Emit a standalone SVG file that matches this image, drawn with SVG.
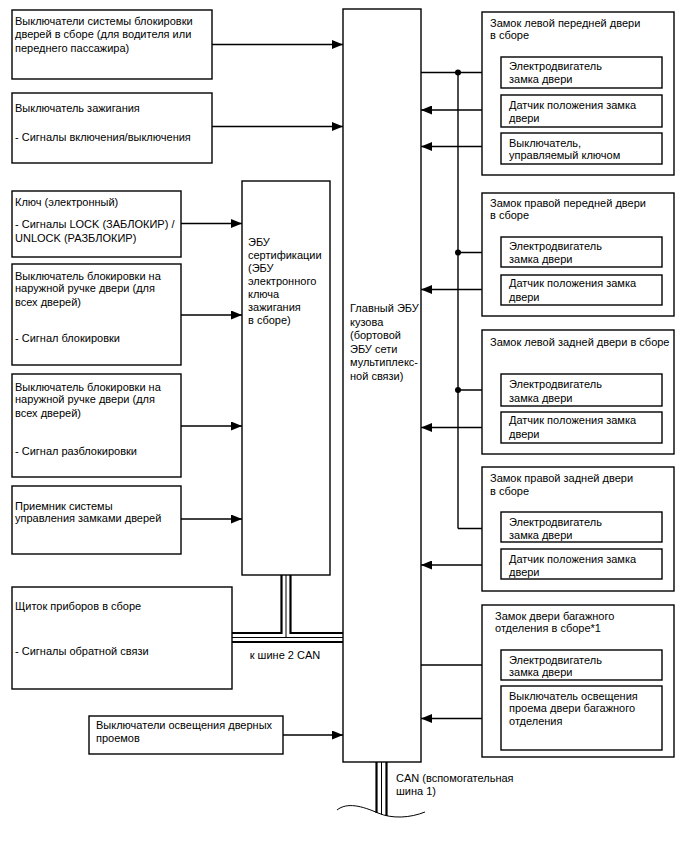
<svg xmlns="http://www.w3.org/2000/svg" width="688" height="852" viewBox="0 0 688 852">
<style>
  .bx{fill:#fff;stroke:#000;stroke-width:1.4}
  .t{font-family:"Liberation Sans",Arial,sans-serif;font-size:11px;fill:#000}
  .ln{fill:none;stroke:#000;stroke-width:1.4}
  .ar{fill:none;stroke:#000;stroke-width:1.4;marker-end:url(#ah)}
  .thick{fill:none;stroke:#000;stroke-width:2.2}
  .thin{fill:none;stroke:#000;stroke-width:1}
</style>
<defs>
  <marker id="ah" markerUnits="userSpaceOnUse" markerWidth="11" markerHeight="9" refX="11" refY="4.5" orient="auto">
    <path d="M0,0 L11,4.5 L0,9 z" fill="#000"/>
  </marker>
</defs>
<rect width="688" height="852" fill="#fff"/>

<g id="connectors">
  <line class="ar" x1="212" y1="44.5" x2="343" y2="44.5"/>
  <line class="ar" x1="212" y1="126.5" x2="343" y2="126.5"/>
  <line class="ar" x1="181" y1="223.5" x2="242" y2="223.5"/>
  <line class="ar" x1="181" y1="315" x2="242" y2="315"/>
  <line class="ar" x1="181" y1="426" x2="242" y2="426"/>
  <line class="ar" x1="181" y1="519" x2="242" y2="519"/>
  <line class="ar" x1="283" y1="735" x2="343" y2="735"/>
  <line class="ar" x1="421" y1="72.5" x2="501" y2="72.5"/>
  <line class="ar" x1="501" y1="110" x2="421" y2="110"/>
  <line class="ar" x1="501" y1="146.5" x2="421" y2="146.5"/>
  <path class="ln" d="M458,72.5 V528.5"/>
  <path class="ar" d="M458,528.5 H501"/>
  <line class="ar" x1="458" y1="252.5" x2="501" y2="252.5"/>
  <line class="ar" x1="501" y1="289.5" x2="421" y2="289.5"/>
  <line class="ar" x1="458" y1="390" x2="501" y2="390"/>
  <line class="ar" x1="501" y1="427.5" x2="421" y2="427.5"/>
  <line class="ar" x1="501" y1="565" x2="421" y2="565"/>
  <line class="ar" x1="421" y1="665" x2="501" y2="665"/>
  <line class="ar" x1="501" y1="718.5" x2="421" y2="718.5"/>
  <circle cx="458" cy="72.5" r="3" fill="#000"/>
  <circle cx="458" cy="252.5" r="3" fill="#000"/>
  <circle cx="458" cy="390" r="3" fill="#000"/>
  <!-- CAN bus 2 -->
  <path class="thick" d="M281.5,575 V633 H232"/>
  <path class="thick" d="M290.5,575 V633 H343"/>
  <path class="thin" d="M286,575 V637.5 M232,637.5 H343"/>
  <path class="thick" d="M232,642 H343"/>
  <!-- CAN sub bus 1 -->
  <path class="thick" d="M376.5,762 V813"/>
  <path class="thin" d="M381.5,762 V814.5"/>
  <path class="thick" d="M386.5,762 V816"/>
  <path class="thin" d="M337,810 C347,802 362,806 378,813 C392,819 410,818 425,812"/>
</g>

<g id="n-door-lock-switches">
  <rect class="bx" x="12" y="10" width="200" height="69"/>
  <text class="t" x="15" y="25">Выключатели системы блокировки</text>
  <text class="t" x="15" y="38.3">дверей в сборе (для водителя или</text>
  <text class="t" x="15" y="51.7">переднего пассажира)</text>
</g>
<g id="n-ignition">
  <rect class="bx" x="12" y="93" width="200" height="70"/>
  <text class="t" x="15" y="111.7">Выключатель зажигания</text>
  <text class="t" x="15" y="140.7">- Сигналы включения/выключения</text>
</g>
<g id="n-key">
  <rect class="bx" x="12" y="191" width="169" height="66"/>
  <text class="t" x="15" y="205.7">Ключ (электронный)</text>
  <text class="t" x="15" y="228.3">- Сигналы LOCK (ЗАБЛОКИР) /</text>
  <text class="t" x="15" y="242.3">UNLOCK (РАЗБЛОКИР)</text>
</g>
<g id="n-handle-lock">
  <rect class="bx" x="12" y="264" width="169" height="101"/>
  <text class="t" x="15" y="280">Выключатель блокировки на</text>
  <text class="t" x="15" y="292.3">наружной ручке двери (для</text>
  <text class="t" x="15" y="305.7">всех дверей)</text>
  <text class="t" x="15" y="342.3">- Сигнал блокировки</text>
</g>
<g id="n-handle-unlock">
  <rect class="bx" x="12" y="374" width="169" height="103"/>
  <text class="t" x="15" y="390.7">Выключатель блокировки на</text>
  <text class="t" x="15" y="403.3">наружной ручке двери (для</text>
  <text class="t" x="15" y="416.7">всех дверей)</text>
  <text class="t" x="15" y="455">- Сигнал разблокировки</text>
</g>
<g id="n-receiver">
  <rect class="bx" x="12" y="486" width="169" height="68"/>
  <text class="t" x="15" y="509.7">Приемник системы</text>
  <text class="t" x="15" y="521.7">управления замками дверей</text>
</g>
<g id="n-cert-ecu">
  <rect class="bx" x="242" y="181" width="88" height="394"/>
  <text class="t" x="248" y="245.5">ЭБУ</text>
  <text class="t" x="248" y="258.5">сертификации</text>
  <text class="t" x="248" y="271.5">(ЭБУ</text>
  <text class="t" x="248" y="284.5">электронного</text>
  <text class="t" x="248" y="297.5">ключа</text>
  <text class="t" x="248" y="310.5">зажигания</text>
  <text class="t" x="248" y="323.5">в сборе)</text>
</g>
<g id="n-cluster">
  <rect class="bx" x="12" y="587" width="220" height="102"/>
  <text class="t" x="15" y="610">Щиток приборов в сборе</text>
  <text class="t" x="15" y="654.7">- Сигналы обратной связи</text>
</g>
<text class="t" x="285" y="659" text-anchor="middle">к шине 2 CAN</text>
<g id="n-courtesy">
  <rect class="bx" x="89" y="716" width="194" height="38"/>
  <text class="t" x="96" y="729">Выключатели освещения дверных</text>
  <text class="t" x="96" y="742.3">проемов</text>
</g>
<g id="n-main-ecu">
  <rect class="bx" x="343" y="9" width="78" height="753"/>
  <text class="t" x="350" y="312">Главный ЭБУ</text>
  <text class="t" x="350" y="325.5">кузова</text>
  <text class="t" x="350" y="339">(бортовой</text>
  <text class="t" x="350" y="352.5">ЭБУ сети</text>
  <text class="t" x="350" y="366">мультиплекс-</text>
  <text class="t" x="350" y="379.5">ной связи)</text>
</g>
<text class="t" x="396" y="782">CAN (вспомогательная</text>
<text class="t" x="396" y="795">шина 1)</text>

<g id="n-lf-lock">
  <rect class="bx" x="482" y="12" width="192" height="163"/>
  <text class="t" x="490" y="27.3">Замок левой передней двери</text>
  <text class="t" x="490" y="39">в сборе</text>
  <g id="n-lf-motor">
    <rect class="bx" x="501" y="57" width="161" height="31"/>
    <text class="t" x="509" y="69.7">Электродвигатель</text>
    <text class="t" x="509" y="83">замка двери</text>
  </g>
  <g id="n-lf-sensor">
    <rect class="bx" x="501" y="95" width="161" height="32"/>
    <text class="t" x="509" y="109">Датчик положения замка</text>
    <text class="t" x="509" y="121.7">двери</text>
  </g>
  <g id="n-lf-keyswitch">
    <rect class="bx" x="501" y="133" width="161" height="31"/>
    <text class="t" x="509" y="146.7">Выключатель,</text>
    <text class="t" x="509" y="159">управляемый ключом</text>
  </g>
</g>
<g id="n-rf-lock">
  <rect class="bx" x="482" y="193" width="192" height="123"/>
  <text class="t" x="490" y="207.3">Замок правой передней двери</text>
  <text class="t" x="490" y="219">в сборе</text>
  <g id="n-rf-motor">
    <rect class="bx" x="501" y="237" width="161" height="30"/>
    <text class="t" x="509" y="249.7">Электродвигатель</text>
    <text class="t" x="509" y="263">замка двери</text>
  </g>
  <g id="n-rf-sensor">
    <rect class="bx" x="501" y="275" width="161" height="30"/>
    <text class="t" x="509" y="287.3">Датчик положения замка</text>
    <text class="t" x="509" y="300.7">двери</text>
  </g>
</g>
<g id="n-lr-lock">
  <rect class="bx" x="482" y="330" width="192" height="124"/>
  <text class="t" x="490" y="345.7">Замок левой задней двери в сборе</text>
  <g id="n-lr-motor">
    <rect class="bx" x="501" y="374" width="161" height="32"/>
    <text class="t" x="509" y="388">Электродвигатель</text>
    <text class="t" x="509" y="402.3">замка двери</text>
  </g>
  <g id="n-lr-sensor">
    <rect class="bx" x="501" y="412" width="161" height="31"/>
    <text class="t" x="509" y="424">Датчик положения замка</text>
    <text class="t" x="509" y="438">двери</text>
  </g>
</g>
<g id="n-rr-lock">
  <rect class="bx" x="482" y="467" width="192" height="124"/>
  <text class="t" x="490" y="482.3">Замок правой задней двери</text>
  <text class="t" x="490" y="495">в сборе</text>
  <g id="n-rr-motor">
    <rect class="bx" x="501" y="512" width="161" height="30"/>
    <text class="t" x="509" y="525.7">Электродвигатель</text>
    <text class="t" x="509" y="539">замка двери</text>
  </g>
  <g id="n-rr-sensor">
    <rect class="bx" x="501" y="549" width="161" height="30"/>
    <text class="t" x="509" y="563">Датчик положения замка</text>
    <text class="t" x="509" y="576.3">двери</text>
  </g>
</g>
<g id="n-trunk-lock">
  <rect class="bx" x="482" y="605" width="192" height="152"/>
  <text class="t" x="495" y="620">Замок двери багажного</text>
  <text class="t" x="495" y="632.3">отделения в сборе*1</text>
  <g id="n-trunk-motor">
    <rect class="bx" x="501" y="650" width="161" height="30"/>
    <text class="t" x="509" y="664">Электродвигатель</text>
    <text class="t" x="509" y="675.7">замка двери</text>
  </g>
  <g id="n-trunk-switch">
    <rect class="bx" x="501" y="686" width="161" height="64"/>
    <text class="t" x="509" y="699.7">Выключатель освещения</text>
    <text class="t" x="509" y="712.3">проема двери багажного</text>
    <text class="t" x="509" y="724.7">отделения</text>
  </g>
</g>
</svg>
